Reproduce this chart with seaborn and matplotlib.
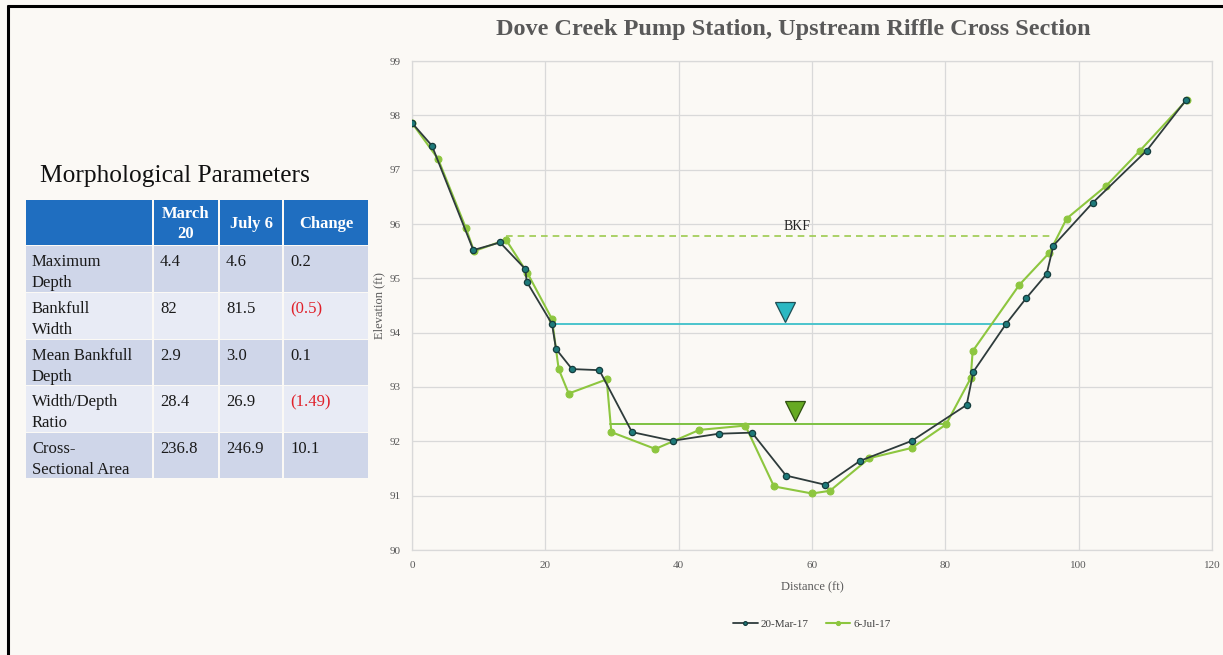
import numpy as np
import pandas as pd
import matplotlib
matplotlib.use("Agg")
import matplotlib.pyplot as plt
import seaborn as sns
from matplotlib.patches import Rectangle

# ---------------- data ----------------
mar_dist = [0, 3.0, 9.2, 13.2, 17.0, 17.2, 21.0, 21.6, 24.0, 28.1, 33.0, 39.1, 46.0, 51.0,
            56.1, 62.0, 67.2, 75.0, 83.2, 84.2, 89.1, 92.1, 95.2, 96.2, 102.1, 110.2, 116.1]
mar_elev = [97.86, 97.44, 95.52, 95.66, 95.17, 94.94, 94.16, 93.70, 93.33, 93.31, 92.17, 92.01,
            92.14, 92.16, 91.37, 91.20, 91.64, 92.01, 92.67, 93.28, 94.16, 94.63, 95.08, 95.60,
            96.39, 97.35, 98.28]
jul_dist = [0, 3.9, 8.1, 9.3, 14.1, 17.3, 21.0, 22.0, 23.5, 29.2, 29.9, 36.5, 43.1, 50.0,
            54.3, 60.0, 62.7, 68.6, 75.0, 80.1, 83.8, 84.1, 91.1, 95.6, 98.2, 104.1, 109.2, 116.2]
jul_elev = [97.86, 97.20, 95.92, 95.50, 95.71, 95.10, 94.25, 93.33, 92.88, 93.14, 92.17, 91.86,
            92.21, 92.29, 91.17, 91.04, 91.09, 91.69, 91.88, 92.31, 93.16, 93.66, 94.88, 95.47,
            96.10, 96.70, 97.35, 98.28]
series_labels = ["20-Mar-17", "6-Jul-17"]

bkf_x = [14.1, 96.2]
bkf_y = [95.78, 95.78]
ws_mar_x = [21.0, 89.1]
ws_mar_y = [94.16, 94.16]
ws_jul_x = [29.7, 80.0]
ws_jul_y = [92.32, 92.32]
tri_mar = (56.0, 94.38)
tri_jul = (57.4, 92.55)

table_cols = ["", "March\n20", "July 6", "Change"]
table_rows = ["Maximum\nDepth", "Bankfull\nWidth", "Mean Bankfull\nDepth",
              "Width/Depth\nRatio", "Cross-\nSectional Area"]
table_march = ["4.4", "82", "2.9", "28.4", "236.8"]
table_july = ["4.6", "81.5", "3.0", "26.9", "246.9"]
table_change = ["0.2", "(0.5)", "0.1", "(1.49)", "10.1"]

x_ticks = [0, 20, 40, 60, 80, 100, 120]
y_ticks = [90, 91, 92, 93, 94, 95, 96, 97, 98, 99]

# ---------------- style ----------------
sns.set_theme(style="white")
plt.rcParams["font.family"] = ["Liberation Serif", "DejaVu Serif"]

W, H = 1223, 655
BG = "#FBF9F5"
fig = plt.figure(figsize=(W / 100, H / 100), dpi=100, facecolor=BG)

# overlay axes in pixel coordinates (frame + table)
ov = fig.add_axes([0, 0, 1, 1], facecolor="none")
ov.set_xlim(0, W)
ov.set_ylim(H, 0)
ov.axis("off")
ov.plot([7, W], [6, 6], color="black", lw=2.2, solid_capstyle="butt")
ov.plot([8, 8], [5, H], color="black", lw=2.2, solid_capstyle="butt")

# ---------------- chart ----------------
L, R, T, B = 412, 1212, 61, 550
ax = fig.add_axes([L / W, 1 - B / H, (R - L) / W, (B - T) / H])
ax.set_facecolor("none")

C_MAR_LINE = "#2E3B3B"
C_MAR_MK = "#1E7A7A"
C_JUL = "#8DC63F"

df_mar = pd.DataFrame({"Distance": mar_dist, "Elevation": mar_elev})
df_jul = pd.DataFrame({"Distance": jul_dist, "Elevation": jul_elev})

sns.lineplot(data=df_jul, x="Distance", y="Elevation", sort=False, ax=ax, color=C_JUL,
             lw=1.5, marker="o", markersize=5, markeredgecolor=C_JUL, zorder=3,
             label=series_labels[1])
sns.lineplot(data=df_mar, x="Distance", y="Elevation", sort=False, ax=ax, color=C_MAR_LINE,
             lw=1.3, marker="o", markersize=4.5, markerfacecolor=C_MAR_MK,
             markeredgecolor="#153C3C", markeredgewidth=0.9, zorder=4,
             label=series_labels[0])

ax.plot(bkf_x, bkf_y, color="#9DCB4F", lw=1.2, ls=(0, (4, 3)), zorder=2)
ax.text(57.7, 95.83, "BKF", fontsize=10, color="#222222", ha="center", va="bottom")
ax.plot(ws_mar_x, ws_mar_y, color="#4BC4CC", lw=1.4, zorder=2)
ax.plot(ws_jul_x, ws_jul_y, color="#7DC142", lw=1.4, zorder=2)
ax.plot(*tri_mar, marker="v", markersize=14, color="#2BB8C2", markeredgecolor="#1F4F55",
        markeredgewidth=0.9, zorder=5)
ax.plot(*tri_jul, marker="v", markersize=14, color="#66AA22", markeredgecolor="#2F5010",
        markeredgewidth=0.9, zorder=5)

ax.set_xlim(0, 120)
ax.set_ylim(90, 99)
ax.set_xticks(x_ticks)
ax.set_yticks(y_ticks)
ax.grid(True, color="#D9D9D9", lw=0.9)
for s in ax.spines.values():
    s.set_color("#D9D9D9")
    s.set_linewidth(0.9)
ax.tick_params(axis="both", length=0, labelsize=8, colors="#595959", pad=8)
ax.set_xlabel("Distance (ft)", fontsize=9, color="#595959", labelpad=8)
ax.set_ylabel("Elevation (ft)", fontsize=9, color="#595959", labelpad=3)

handles, labels = ax.get_legend_handles_labels()
order = [labels.index(series_labels[0]), labels.index(series_labels[1])]
leg = ax.legend([handles[i] for i in order], [labels[i] for i in order],
                loc="center", bbox_to_anchor=(0.5, -0.152), ncol=2, frameon=False,
                fontsize=8, handlelength=2.2, columnspacing=1.5, handletextpad=0.3,
                markerscale=0.6)
for t in leg.get_texts():
    t.set_color("#404040")

fig.text(793 / W, 1 - 29 / H, "Dove Creek Pump Station, Upstream Riffle Cross Section",
         ha="center", va="center", fontsize=17.5, fontweight="bold", color="#595959")

# ---------------- table ----------------
ov.text(40, 176, "Morphological Parameters", fontsize=18.3, color="#111111",
        ha="left", va="center")
col_x = [25, 153, 219, 283, 369]
row_y = [200, 246, 293, 340, 386, 433, 479]
HDR = "#1F6EC0"
ROW_DARK = "#CFD6E9"
ROW_LIGHT = "#E8EBF5"
gap = 1.5
for ci in range(4):
    ov.add_patch(Rectangle((col_x[ci] + gap / 2, row_y[0]), col_x[ci + 1] - col_x[ci] - gap,
                           row_y[1] - row_y[0] - gap, facecolor=HDR, edgecolor="none"))
    if table_cols[ci]:
        ov.text((col_x[ci] + col_x[ci + 1]) / 2, (row_y[0] + row_y[1]) / 2 + 1, table_cols[ci],
                color="white", fontsize=12, fontweight="bold", ha="center", va="center",
                linespacing=1.25)
for ri in range(5):
    fc = ROW_DARK if ri % 2 == 0 else ROW_LIGHT
    y0 = row_y[ri + 1]
    y1 = row_y[ri + 2]
    vals = [table_rows[ri], table_march[ri], table_july[ri], table_change[ri]]
    for ci in range(4):
        ov.add_patch(Rectangle((col_x[ci] + gap / 2, y0), col_x[ci + 1] - col_x[ci] - gap,
                               y1 - y0 - gap, facecolor=fc, edgecolor="none"))
        color = "#E0202A" if vals[ci].startswith("(") else "#1A1A1A"
        ov.text(col_x[ci] + 7, y0 + 8, vals[ci], color=color, fontsize=12,
                ha="left", va="top", linespacing=1.4)

fig.savefig("out.png", dpi=100, facecolor=BG)
